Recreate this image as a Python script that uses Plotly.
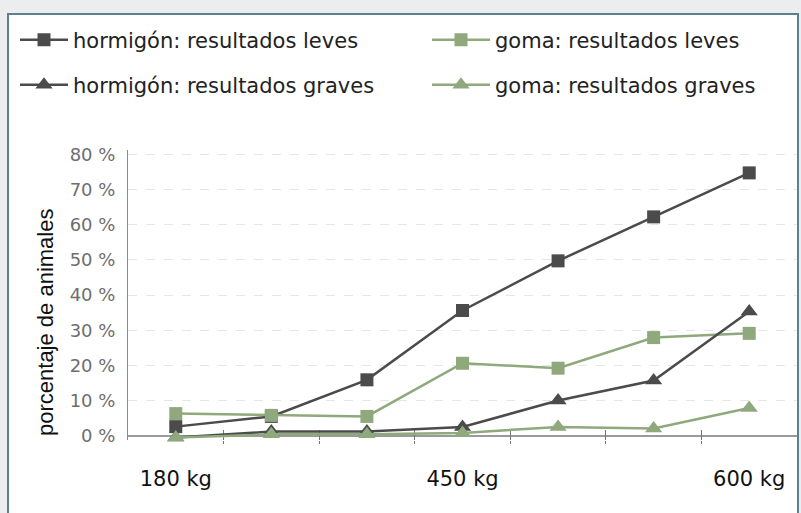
import plotly.graph_objects as go

categories = [0, 1, 2, 3, 4, 5, 6]
tick_positions = [0, 3, 6]
tick_labels = ["180 kg", "450 kg", "600 kg"]
boundaries = [0.5, 1.5, 2.5, 3.5, 4.5, 5.5]

hormigon_leves = [2.6, 5.5, 15.9, 35.6, 49.7, 62.2, 74.7]
goma_leves = [6.3, 5.8, 5.5, 20.6, 19.2, 27.9, 29.1]
hormigon_graves = [-0.5, 1.2, 1.2, 2.5, 10.0, 15.7, 35.3]
goma_graves = [-0.5, 0.4, 0.4, 0.8, 2.5, 2.1, 7.9]

y_ticks = [0, 10, 20, 30, 40, 50, 60, 70, 80]
y_tick_labels = ["0 %", "10 %", "20 %", "30 %", "40 %", "50 %", "60 %", "70 %", "80 %"]

DARK = "#4b4b4b"
GREEN = "#8fa87c"

W, H = 801, 513
L, R, T, B = 128, 4, 150, 73
pw = W - L - R
ph = H - T - B
Y0, Y1 = -1.2, 81.2

def px_x(px):
    return (px - L) / pw

def px_y(py):
    return (H - B - py) / ph

fig = go.Figure()

series = [
    ("hormigón: resultados leves", hormigon_leves, DARK, "square", 13, "legend"),
    ("goma: resultados leves", goma_leves, GREEN, "square", 13, "legend2"),
    ("hormigón: resultados graves", hormigon_graves, DARK, "triangle-up", 15, "legend3"),
    ("goma: resultados graves", goma_graves, GREEN, "triangle-up", 15, "legend4"),
]
for name, vals, col, sym, size, leg in series:
    fig.add_trace(go.Scatter(
        x=categories, y=vals, name=name, mode="lines+markers",
        line=dict(color=col, width=2.5),
        marker=dict(symbol=sym, size=size, color=col),
        cliponaxis=False, legend=leg,
    ))

# overlay axis for the upper half of the boundary ticks
fig.add_trace(go.Scatter(x=[0], y=[0], xaxis="x2", showlegend=False,
                         mode="markers", marker=dict(opacity=0), hoverinfo="skip"))

legfont = dict(family="DejaVu Sans, Verdana, sans-serif", size=21, color="#222")

def leg(xpx, ypx, iw):
    return dict(orientation="h", x=px_x(xpx), y=px_y(ypx), xanchor="left", yanchor="middle",
                itemwidth=iw, font=legfont, bgcolor="rgba(0,0,0,0)", borderwidth=0)

fig.update_layout(
    width=W, height=H,
    margin=dict(l=L, r=R, t=T, b=B),
    paper_bgcolor="#ebedef",
    plot_bgcolor="#fdfdf8",
    showlegend=True,
    legend=leg(15, 40, 48),
    legend2=leg(427, 40, 58),
    legend3=leg(15, 85, 48),
    legend4=leg(427, 85, 58),
    xaxis=dict(
        range=[-0.5, 6.5], showgrid=False, zeroline=False,
        tickvals=tick_positions, ticktext=tick_labels,
        ticks="outside", ticklen=0, tickcolor="rgba(0,0,0,0)",
        ticklabelstandoff=20,
        tickfont=dict(family="DejaVu Sans, Verdana, sans-serif", size=21, color="#111"),
        showline=False,
        minor=dict(tickvals=boundaries, ticks="outside", ticklen=3, tickcolor="#777", tickwidth=1),
        layer="below traces",
    ),
    xaxis2=dict(
        overlaying="x", matches="x", showgrid=False, zeroline=False,
        showticklabels=False, side="bottom",
        tickvals=boundaries, ticks="inside", ticklen=10, tickcolor="#777", tickwidth=1,
        showline=False, layer="below traces",
    ),
    yaxis=dict(
        range=[Y0, Y1], tickvals=y_ticks, ticktext=y_tick_labels,
        tickfont=dict(family="DejaVu Sans, Verdana, sans-serif", size=18, color="#6e6e6e"),
        showgrid=True, gridcolor="#e6e6e2", griddash="dash", gridwidth=1,
        zeroline=True, zerolinecolor="#9a9a9a", zerolinewidth=2,
        showline=True, linecolor="#8a8a8a", linewidth=1,
        ticks="", ticklabelstandoff=8, layer="below traces",
    ),
    shapes=[dict(type="rect", xref="paper", yref="paper",
                 x0=px_x(8), x1=px_x(798), y0=px_y(530), y1=px_y(14),
                 line=dict(color="#5e7f90", width=2), fillcolor="#ffffff", layer="below")],
    annotations=[dict(text="porcentaje de animales", textangle=-90, xref="paper", yref="paper",
                      x=px_x(45), y=px_y(323), xanchor="center", yanchor="middle",
                      showarrow=False,
                      font=dict(family="Liberation Sans, Arial, sans-serif", size=22, color="#111"))],
)

fig.write_html("out.html", config={"displayModeBar": False},
               post_script="document.body.style.margin='0';")
